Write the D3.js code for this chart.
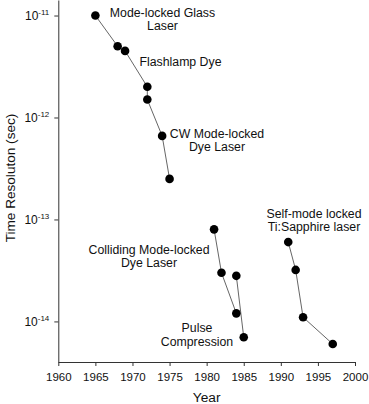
<!DOCTYPE html>
<html>
<head>
<meta charset="utf-8">
<script src="https://cdn.jsdelivr.net/npm/d3@7"></script>
<style>
  html, body { margin: 0; padding: 0; background: #fff; }
  svg { display: block; }
  text { font-family: "Liberation Sans", Arial, Helvetica, sans-serif; fill: #111; }
</style>
</head>
<body>
<svg id="chart" width="369" height="404"></svg>
<script>
// ---- Data ----
// Series 1: mode-locked glass / flashlamp dye / CW mode-locked dye
const years1  = [1965, 1968, 1969, 1972, 1972, 1974, 1975];
const values1 = [1e-11, 5.0e-12, 4.5e-12, 2.0e-12, 1.5e-12, 6.6e-13, 2.5e-13];
// Series 2a: colliding mode-locked dye laser
const years2a  = [1981, 1982, 1984];
const values2a = [8.0e-14, 3.0e-14, 1.2e-14];
// Series 2b: pulse compression
const years2b  = [1984, 1985];
const values2b = [2.8e-14, 7.0e-15];
// Series 3: self-mode locked Ti:Sapphire
const years3  = [1991, 1992, 1993, 1997];
const values3 = [6.0e-14, 3.2e-14, 1.1e-14, 6.0e-15];

const xTicks = [1960, 1965, 1970, 1975, 1980, 1985, 1990, 1995, 2000];
const yTickExponents = [-11, -12, -13, -14];

const labelTexts = [
  ["Mode-locked Glass", "Laser"],
  ["Flashlamp Dye"],
  ["CW Mode-locked", "Dye Laser"],
  ["Colliding Mode-locked", "Dye Laser"],
  ["Pulse", "Compression"],
  ["Self-mode locked", "Ti:Sapphire laser"]
];
// annotation layout (pixel centres of each label block's first line, and line gap)
const labelLayout = [
  {x: 162.5, y: 13,    gap: 12.8},
  {x: 180.5, y: 62,    gap: 12.8},
  {x: 217,   y: 134,   gap: 13},
  {x: 149,   y: 249.5, gap: 12.8},
  {x: 197,   y: 328,   gap: 13.7},
  {x: 314,   y: 213.5, gap: 12.8}
];

// ---- Chart ----
const svg = d3.select("#chart");
const x = d3.scaleLinear().domain([1960, 2000]).range([58.3, 355]);
const y = d3.scaleLog().domain([4e-15, 1.42e-11]).range([362, 0]);

const axisColor = "#333";

// X axis
const gx = svg.append("g")
  .attr("transform", `translate(0,${y.range()[0]})`)
  .call(d3.axisBottom(x).tickValues(xTicks).tickFormat(d3.format("d"))
        .tickSize(4).tickSizeOuter(0).tickPadding(7));
gx.select(".domain").attr("stroke", axisColor);
gx.selectAll(".tick line").attr("stroke", axisColor);
gx.selectAll(".tick text").attr("font-size", 11.5).attr("fill", "#111")
  .attr("font-family", '"Liberation Sans", Arial, sans-serif');

// Y axis
const gy = svg.append("g")
  .attr("transform", `translate(${x.range()[0]},0)`)
  .call(d3.axisLeft(y).tickValues(yTickExponents.map(e => Math.pow(10, e)))
        .tickFormat(() => "").tickSize(4).tickSizeOuter(0));
gy.select(".domain").attr("stroke", axisColor);
gy.selectAll(".tick line").attr("stroke", axisColor);
gy.selectAll(".tick").each(function(d, i) {
  const t = d3.select(this).append("text")
    .attr("x", -9).attr("dy", "0.35em")
    .attr("text-anchor", "end").attr("font-size", 12).attr("fill", "#111")
    .attr("font-family", '"Liberation Sans", Arial, sans-serif');
  t.append("tspan").text("10");
  t.append("tspan").attr("dy", -5).attr("font-size", 8)
    .text("-" + Math.abs(yTickExponents[i]));
});

// Axis titles
svg.append("text")
  .attr("x", (x.range()[0] + x.range()[1]) / 2).attr("y", 401.5)
  .attr("text-anchor", "middle").attr("font-size", 13.7).text("Year");
svg.append("text")
  .attr("transform", "translate(15,178) rotate(-90)")
  .attr("text-anchor", "middle").attr("font-size", 13.6).text("Time Resoluton (sec)");

// Lines and markers
const series = [
  [years1, values1], [years2a, values2a], [years2b, values2b], [years3, values3]
];
const line = d3.line().x(d => x(d[0])).y(d => y(d[1]));
series.forEach(([ys, vs]) => {
  const pts = ys.map((yr, i) => [yr, vs[i]]);
  svg.append("path").datum(pts)
    .attr("d", line).attr("fill", "none")
    .attr("stroke", "#666").attr("stroke-width", 1);
});
series.forEach(([ys, vs]) => {
  const pts = ys.map((yr, i) => [yr, vs[i]]);
  svg.append("g").selectAll("circle").data(pts).join("circle")
    .attr("cx", d => x(d[0])).attr("cy", d => y(d[1]))
    .attr("r", 4.3).attr("fill", "#000");
});

// Annotations
labelTexts.forEach((lines, i) => {
  const L = labelLayout[i];
  const t = svg.append("text").attr("text-anchor", "middle").attr("font-size", 12.3);
  lines.forEach((s, j) => {
    t.append("tspan").attr("x", L.x).attr("y", L.y + j * L.gap).attr("dy", "0.35em").text(s);
  });
});
</script>
</body>
</html>
